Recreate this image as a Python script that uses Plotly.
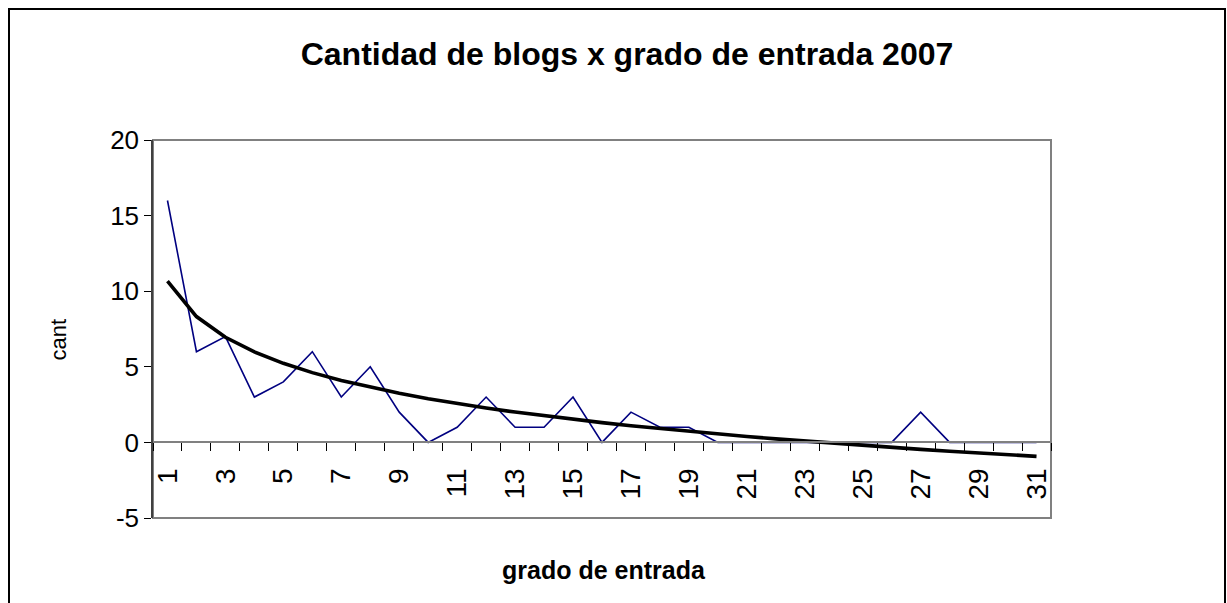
import numpy as np
import plotly.graph_objects as go

grado = list(range(1, 32))
cant = [16, 6, 7, 3, 4, 6, 3, 5, 2, 0, 1, 3, 1, 1, 3, 0, 2, 1, 1, 0,
        0, 0, 0, 0, 0, 0, 2, 0, 0, 0, 0]
x_ticks = list(range(1, 32, 2))
y_ticks = [-5, 0, 5, 10, 15, 20]
y_labels = ["-5", "0", "5", "10", "15", "20"]

# logarithmic trend line (as Excel's logarithmic trendline), fitted to the data
a, b = np.polyfit(np.log(grado), cant, 1)
trend = a * np.log(grado) + b

W, H = 1227, 603
L, T, R, B = 153, 140, 1051, 518
pw, ph = R - L, B - T

def px(x):
    return (x - L) / pw

def py(y):
    return (B - y) / ph

fig = go.Figure()
fig.add_trace(go.Scatter(x=grado, y=cant, mode="lines",
                         line=dict(color="#000080", width=1.6), showlegend=False))
fig.add_trace(go.Scatter(x=grado, y=trend, mode="lines",
                         line=dict(color="black", width=3.6), showlegend=False))

font = "Liberation Sans, Arial, sans-serif"
fig.update_layout(
    width=W, height=H,
    margin=dict(l=L, r=W - R, t=T, b=H - B),
    paper_bgcolor="white", plot_bgcolor="white",
    font=dict(family=font, color="black"),
    showlegend=False,
    title=dict(text="<b>Cantidad de blogs x grado de entrada 2007</b>",
               x=627 / W, xanchor="center", y=1 - 54 / H, yanchor="middle",
               font=dict(size=32, family=font, color="black")),
    xaxis=dict(range=[0.5, 31.5], tickmode="array", tickvals=x_ticks,
               ticktext=[str(v) for v in x_ticks], tickangle=-90,
               tickfont=dict(size=28, family=font, color="black"),
               ticks="", ticklabelstandoff=14, showgrid=False, zeroline=False,
               showline=True, linecolor="#808080", linewidth=1.5,
               anchor="free", position=0.2,
               minor=dict(tickmode="linear", tick0=0.5, dtick=1, ticks="outside",
                          ticklen=8, tickcolor="black", tickwidth=1, showgrid=False)),
    yaxis=dict(range=[-5, 20], domain=[0, 1], tickmode="array", tickvals=y_ticks,
               ticktext=y_labels,
               tickfont=dict(size=26, family=font, color="black"),
               ticks="outside", ticklen=7, tickcolor="black",
               showgrid=False, zeroline=False,
               showline=True, linecolor="#404040", linewidth=1.5),
)

# plot-area border (gray) and outer chart border
fig.add_shape(type="rect", xref="paper", yref="paper", x0=0, x1=1, y0=0, y1=1,
              line=dict(color="#808080", width=2), layer="below")
fig.add_shape(type="rect", xref="paper", yref="paper",
              x0=px(9), x1=px(1225), y0=py(620), y1=py(9),
              line=dict(color="black", width=2))

fig.add_annotation(text="<b>grado de entrada</b>", xref="paper", yref="paper",
                   x=px(604), y=py(586), showarrow=False,
                   font=dict(size=25, family=font, color="black"))
fig.add_annotation(text="cant", xref="paper", yref="paper",
                   x=px(43), y=py(340), showarrow=False, textangle=-90,
                   font=dict(size=22, family=font, color="black"))

fig.write_html("out.html", config={"displayModeBar": False},
               post_script="document.body.style.margin='0';")
